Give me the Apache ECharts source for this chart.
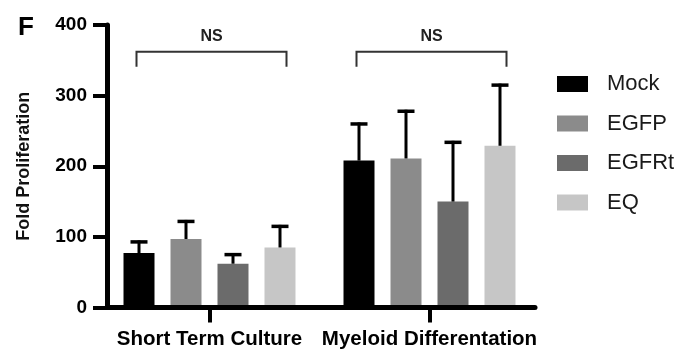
<!DOCTYPE html>
<html>
<head>
<meta charset="utf-8">
<script src="https://cdn.jsdelivr.net/npm/echarts@6/dist/echarts.min.js"></script>
<style>
html,body{margin:0;padding:0;background:#fff;}
#chart{width:680px;height:352px;}
</style>
</head>
<body>
<div id="chart"></div>
<script>
// ---- data ----
const categories = ['Short Term Culture', 'Myeloid Differentation'];
const seriesNames = ['Mock', 'EGFP', 'EGFRt', 'EQ'];
const mockMean  = [77, 208];
const mockErr   = [18, 54];
const egfpMean  = [97, 211];
const egfpErr   = [27, 69];
const egfrtMean = [62, 150];
const egfrtErr  = [15, 86];
const eqMean    = [85, 229];
const eqErr     = [32, 88];
const yTicks = [0, 100, 200, 300, 400];
const sigLabels = ['NS', 'NS'];
const bracketLevel = 362;   // value of the bracket bar
const bracketDrop = 341;    // value where bracket legs end
const sigTextLevel = 384;   // value of the NS text

// ---- style ----
const FONT = "'Liberation Sans', Arial, Helvetica, sans-serif";
const colors = ['#000000', '#8b8b8b', '#6b6b6b', '#c6c6c6'];
const BAR_W = 31, GAP_PX = 16;

const means = [mockMean, egfpMean, egfrtMean, eqMean];
const errs = [mockErr, egfpErr, egfrtErr, eqErr];

const errData = [];
means.forEach((m, si) => {
  m.forEach((v, ci) => {
    errData.push([ci, v + errs[si][ci], v, si]);
  });
});

const chart = echarts.init(document.getElementById('chart'), null, {renderer: 'canvas'});

const barSeries = seriesNames.map((name, si) => ({
  name: name,
  type: 'bar',
  xAxisIndex: 0,
  yAxisIndex: 0,
  data: means[si],
  barWidth: BAR_W,
  barGap: (GAP_PX / BAR_W * 100).toFixed(1) + '%',
  itemStyle: {color: colors[si]},
  z: 2
}));

const errorSeries = {
  type: 'custom',
  xAxisIndex: 0,
  yAxisIndex: 0,
  data: errData,
  encode: {x: 0, y: 1},
  z: 3,
  silent: true,
  renderItem: function (params, api) {
    const ci = api.value(0), top = api.value(1), mean = api.value(2), si = api.value(3);
    const pTop = api.coord([ci, top]);
    const pBase = api.coord([ci, mean]);
    const x = pTop[0] + (si - 1.5) * (BAR_W + GAP_PX);
    return {
      type: 'group',
      children: [
        {type: 'line', shape: {x1: x, y1: pBase[1], x2: x, y2: pTop[1]}, style: {stroke: '#000', lineWidth: 3}},
        {type: 'line', shape: {x1: x - 8.5, y1: pTop[1] + 1.5, x2: x + 8.5, y2: pTop[1] + 1.5}, style: {stroke: '#000', lineWidth: 3.5}}
      ]
    };
  }
};

const bracketSeries = {
  type: 'custom',
  xAxisIndex: 0,
  yAxisIndex: 0,
  data: sigLabels.map((s, ci) => [ci, bracketLevel, s]),
  encode: {x: 0, y: 1},
  z: 3,
  silent: true,
  renderItem: function (params, api) {
    const ci = api.value(0);
    const c = api.coord([ci, bracketLevel]);
    const d = api.coord([ci, bracketDrop]);
    const t = api.coord([ci, sigTextLevel]);
    const x1 = c[0] - 73, x2 = c[0] + 77;
    return {
      type: 'group',
      children: [
        {type: 'polyline', shape: {points: [[x1, d[1]], [x1, c[1]], [x2, c[1]], [x2, d[1]]]},
          style: {stroke: '#333', lineWidth: 2, fill: null}},
        {type: 'text', x: (x1 + x2) / 2, y: t[1],
          style: {text: sigLabels[ci], fill: '#222', font: 'bold 16px ' + FONT, align: 'center', verticalAlign: 'middle'}}
      ]
    };
  }
};

const option = {
  animation: false,
  backgroundColor: '#ffffff',
  title: {
    text: 'F', left: 13, top: 10,
    textStyle: {fontSize: 26, fontWeight: 'bold', color: '#000', fontFamily: FONT}
  },
  legend: {
    orient: 'vertical',
    left: 552, top: 68,
    itemWidth: 31, itemHeight: 16, itemGap: 17.5,
    icon: 'rect',
    data: seriesNames,
    textStyle: {fontSize: 22, color: '#1a1a1a', fontFamily: FONT, padding: [0, 0, 0, 14]}
  },
  grid: [
    {left: 99.5, right: 140.5, top: 25, bottom: 44.5},
    {left: 107, right: 145, top: 25, bottom: 44.5}
  ],
  xAxis: [
    {
      gridIndex: 0, type: 'category', data: categories,
      axisLine: {show: false},
      axisTick: {show: true, alignWithLabel: true, length: 15, lineStyle: {width: 4, color: '#000'}},
      axisLabel: {margin: 21, fontSize: 20.5, fontWeight: 'bold', color: '#000', fontFamily: FONT, interval: 0},
      splitLine: {show: false}
    },
    {
      gridIndex: 1, type: 'value', min: 0, max: 1,
      axisLine: {show: true, lineStyle: {width: 5, color: '#000'}},
      axisTick: {show: false}, axisLabel: {show: false}, splitLine: {show: false},
      z: 5
    }
  ],
  yAxis: [
    {gridIndex: 0, type: 'value', min: yTicks[0], max: yTicks[yTicks.length - 1], interval: 100, show: false},
    {
      gridIndex: 1, type: 'value', min: yTicks[0], max: yTicks[yTicks.length - 1], interval: 100,
      axisLine: {show: true, lineStyle: {width: 5, color: '#000'}},
      axisTick: {show: true, length: 14, lineStyle: {width: 4, color: '#000'}},
      axisLabel: {margin: 20, fontSize: 19, fontWeight: 'bold', color: '#000', fontFamily: FONT},
      splitLine: {show: false},
      name: 'Fold Proliferation', nameLocation: 'middle', nameGap: 74,
      nameTextStyle: {fontSize: 18, fontWeight: 'bold', color: '#111', fontFamily: FONT},
      z: 5
    }
  ],
  series: [...barSeries, errorSeries, bracketSeries]
};

chart.setOption(option);
</script>
</body>
</html>
